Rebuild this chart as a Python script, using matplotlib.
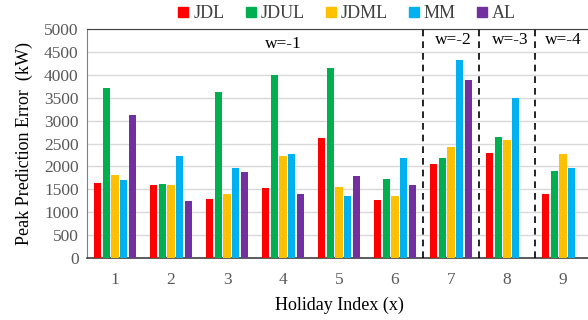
import matplotlib
matplotlib.use("Agg")
import matplotlib.pyplot as plt
import numpy as np

categories = ["1", "2", "3", "4", "5", "6", "7", "8", "9"]
series_names = ["JDL", "JDUL", "JDML", "MM", "AL"]
JDL  = [1630, 1600, 1290, 1520, 2630, 1260, 2060, 2290, 1400]
JDUL = [3720, 1620, 3630, 3990, 4150, 1730, 2180, 2640, 1910]
JDML = [1820, 1590, 1400, 2230, 1550, 1350, 2420, 2570, 2280]
MM   = [1700, 2220, 1960, 2260, 1350, 2180, 4320, 3500, 1970]
AL   = [3130, 1250, 1870, 1400, 1800, 1600, 3890, 0, 0]
colors = ["#FF0000", "#00B050", "#FFC000", "#00B0F0", "#7030A0"]
window_labels = ["w=-1", "w=-2", "w=-3", "w=-4"]

plt.rcParams['font.family'] = ['Liberation Serif', 'DejaVu Serif']

fig = plt.figure(figsize=(5.88, 3.2), dpi=100)
ax = fig.add_axes([87/588, 1-258/320, (591-87)/588, (258-29)/320])

x = np.arange(1, len(categories) + 1)
data = [JDL, JDUL, JDML, MM, AL]
w = 0.135
step = 0.155
for i, (vals, c, name) in enumerate(zip(data, colors, series_names)):
    ax.bar(x + (i - 2) * step, vals, width=w, color=c, label=name, zorder=3)

ax.set_ylim(0, 5000)
ax.set_xlim(0.5, 9.5)
ax.set_yticks(np.arange(0, 5001, 500))
ax.set_xticks(x)
ax.set_xticklabels(categories)
ax.yaxis.grid(True, color="#D9D9D9", linewidth=1, zorder=0)
ax.tick_params(axis='both', length=0, labelsize=12.5, colors="#595959", pad=6)
ax.tick_params(axis='x', pad=10)
for s in ["right"]:
    ax.spines[s].set_visible(False)
ax.spines["left"].set_color("#808080")
ax.spines["bottom"].set_color("#404040")
ax.spines["bottom"].set_linewidth(1.2)
ax.spines["top"].set_color("#404040")

for xd in [6.5, 7.5, 8.5]:
    ax.axvline(xd, color="black", linestyle=(0, (4, 3)), linewidth=1.2, zorder=4)

ax.text(4, 4680, window_labels[0], ha="center", va="center", fontsize=12.5)
ax.text(7.05, 4760, window_labels[1], ha="center", va="center", fontsize=12.5)
ax.text(8.05, 4760, window_labels[2], ha="center", va="center", fontsize=12.5)
ax.text(9.0, 4760, window_labels[3], ha="center", va="center", fontsize=12.5)

ax.set_ylabel("Peak Prediction Error  (kW)", fontsize=13, labelpad=8)
ax.set_xlabel("Holiday Index (x)", fontsize=13, labelpad=6)

handles = [plt.Line2D([], [], marker='s', linestyle='', color=c, markersize=6.5) for c in colors]
fig.legend(handles, series_names, loc="upper center", bbox_to_anchor=(0.587, 1.035), ncol=5,
           frameon=False, fontsize=13, handletextpad=0.05, columnspacing=0.95,
           handlelength=1.0, labelcolor="#404040")

fig.savefig("out.png", dpi=100)
